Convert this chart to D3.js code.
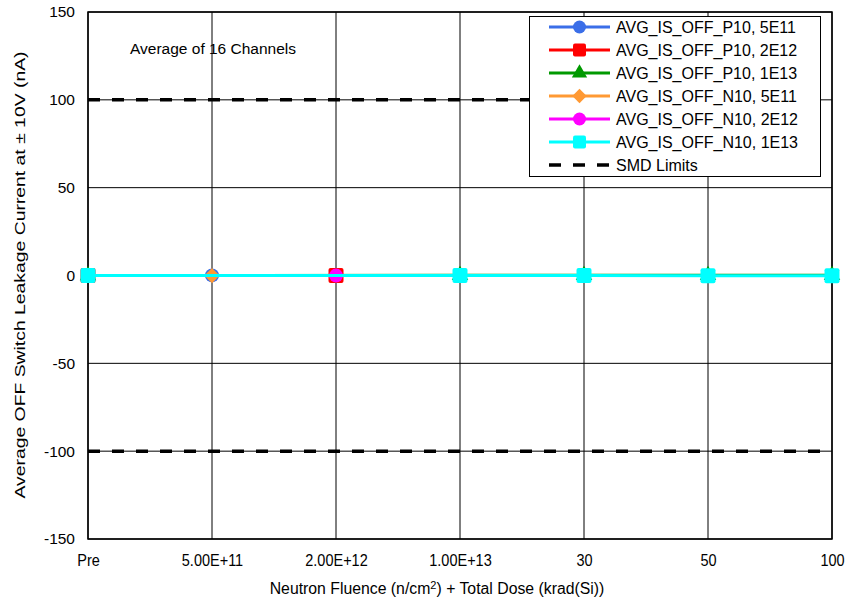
<!DOCTYPE html>
<html><head><meta charset="utf-8">
<script src="https://cdn.jsdelivr.net/npm/d3@7"></script>
<style>body{margin:0;background:#fff;} text{font-family:"Liberation Sans",Arial,sans-serif;}</style>
</head><body>
<svg id="c" width="849" height="601"></svg>
<script>
const categories = ["Pre","5.00E+11","2.00E+12","1.00E+13","30","50","100"];
const yTicks = [-150,-100,-50,0,50,100,150];
const smdLimits = [100,-100];
const seriesNames = ["AVG_IS_OFF_P10, 5E11","AVG_IS_OFF_P10, 2E12","AVG_IS_OFF_P10, 1E13","AVG_IS_OFF_N10, 5E11","AVG_IS_OFF_N10, 2E12","AVG_IS_OFF_N10, 1E13"];
const seriesColors = ["#3a6ee8","#ff0000","#009900","#ff9933","#ff00ff","#00ffff"];
const seriesMarkers = ["circle","square","triangle","diamond","circle","square"];
// values (nA) per category; null = not measured
const p10_5e11 = [0.05,0.06,null,null,null,null,null];
const p10_2e12 = [0.05,null,0.07,null,null,null,null];
const p10_1e13 = [0.05,null,null,0.08,0.09,0.1,0.1];
const n10_5e11 = [-0.04,-0.05,null,null,null,null,null];
const n10_2e12 = [-0.04,null,-0.05,null,null,null,null];
const n10_1e13 = [-0.04,null,null,-0.06,-0.07,-0.08,-0.08];
const seriesValues = [p10_5e11,p10_2e12,p10_1e13,n10_5e11,n10_2e12,n10_1e13];

const svg = d3.select("#c");
const L=88,R=832,T=12,B=539;
const x = d3.scalePoint().domain(categories).range([L,R]).padding(0);
const y = d3.scaleLinear().domain([-150,150]).range([B,T]);

// grid
const g = svg.append("g");
g.selectAll(".vg").data(categories).enter().append("line")
 .attr("x1",d=>x(d)).attr("x2",d=>x(d)).attr("y1",T).attr("y2",B)
 .attr("stroke","#000").attr("stroke-width",1);
g.selectAll(".hg").data(yTicks).enter().append("line")
 .attr("x1",L).attr("x2",R).attr("y1",d=>y(d)).attr("y2",d=>y(d))
 .attr("stroke","#000").attr("stroke-width",1);
svg.append("rect").attr("x",L).attr("y",T).attr("width",R-L).attr("height",B-T)
 .attr("fill","none").attr("stroke","#000").attr("stroke-width",1.5);

// axes labels
const yAxis = d3.axisLeft(y).tickValues(yTicks).tickSize(0).tickPadding(13).tickFormat(d=>String(d));
const ya = svg.append("g").attr("transform",`translate(${L},0)`).call(yAxis);
ya.select(".domain").remove();
ya.selectAll("text").attr("font-size",15.5).attr("fill","#000").attr("font-family","Liberation Sans, Arial, sans-serif");
const xAxis = d3.axisBottom(x).tickSize(0).tickPadding(13);
const xa = svg.append("g").attr("transform",`translate(0,${B})`).call(xAxis);
xa.select(".domain").remove();
xa.selectAll("text").attr("font-size",14.5).attr("fill","#000").attr("font-family","Liberation Sans, Arial, sans-serif")
 .attr("transform","scale(1,1.15)");

// SMD limits
svg.selectAll(".smd").data(smdLimits).enter().append("line")
 .attr("x1",L).attr("x2",R).attr("y1",d=>y(d)).attr("y2",d=>y(d))
 .attr("stroke","#000").attr("stroke-width",3.5).attr("stroke-dasharray","12,12");

// series
function marker(sel,type,color,size){
  if(type==="circle") sel.append("circle").attr("r",size*0.5).attr("fill",color);
  else if(type==="square") sel.append("rect").attr("x",-size*0.5).attr("y",-size*0.5).attr("width",size).attr("height",size).attr("rx",2).attr("fill",color);
  else if(type==="triangle") sel.append("path").attr("d",d3.symbol(d3.symbolTriangle,size*size*0.6)()).attr("fill",color);
  else if(type==="diamond") sel.append("path").attr("d",`M0,${-size*0.55}L${size*0.55},0L0,${size*0.55}L${-size*0.55},0Z`).attr("fill",color);
}
const line = d3.line().defined(d=>d.v!==null).x(d=>x(d.c)).y(d=>y(d.v));
seriesValues.forEach((vals,i)=>{
  const pts = vals.map((v,j)=>({c:categories[j],v})).filter(d=>d.v!==null);
  svg.append("path").datum(pts).attr("d",line).attr("fill","none")
   .attr("stroke",seriesColors[i]).attr("stroke-width",3);
  pts.forEach(p=>{
    const m = svg.append("g").attr("transform",`translate(${x(p.c)},${y(p.v)})`);
    marker(m,seriesMarkers[i],seriesColors[i],seriesMarkers[i]==="square"?15:14);
  });
});

// annotation
svg.append("text").attr("x",130).attr("y",54).attr("font-size",15.5).text("Average of 16 Channels");

// legend
const lg = svg.append("g");
lg.append("rect").attr("x",529.5).attr("y",16.5).attr("width",291).attr("height",160)
 .attr("fill","#fff").attr("stroke","#000").attr("stroke-width",1);
const legItems = seriesNames.map((n,i)=>({n,c:seriesColors[i],m:seriesMarkers[i]})).concat([{n:"SMD Limits",c:"#000",m:"dash"}]);
legItems.forEach((d,i)=>{
  const yy = 27 + i*23;
  const it = lg.append("g");
  if(d.m==="dash"){
    it.append("line").attr("x1",549).attr("x2",610).attr("y1",yy).attr("y2",yy)
     .attr("stroke","#000").attr("stroke-width",3.5).attr("stroke-dasharray","12,12");
  } else {
    it.append("line").attr("x1",549).attr("x2",610).attr("y1",yy).attr("y2",yy)
     .attr("stroke",d.c).attr("stroke-width",3);
    const m = it.append("g").attr("transform",`translate(579.5,${yy})`);
    marker(m,d.m,d.c,13);
  }
  it.append("text").attr("x",616).attr("y",yy+5.5).attr("font-size",16).text(d.n);
});

// axis titles
const xt = svg.append("text").attr("x",437).attr("y",594).attr("text-anchor","middle").attr("font-size",15.8);
xt.append("tspan").text("Neutron Fluence (n/cm");
xt.append("tspan").attr("font-size",11).attr("dy",-5).text("2");
xt.append("tspan").attr("dy",5).text(") + Total Dose (krad(Si))");
svg.append("text").attr("transform",`translate(25,${(T+B)/2-0.5}) rotate(-90)`)
 .attr("text-anchor","middle").attr("font-size",15.5)
 .attr("textLength",447).attr("lengthAdjust","spacingAndGlyphs")
 .text("Average OFF Switch Leakage Current at ± 10V (nA)");
</script>
</body></html>
